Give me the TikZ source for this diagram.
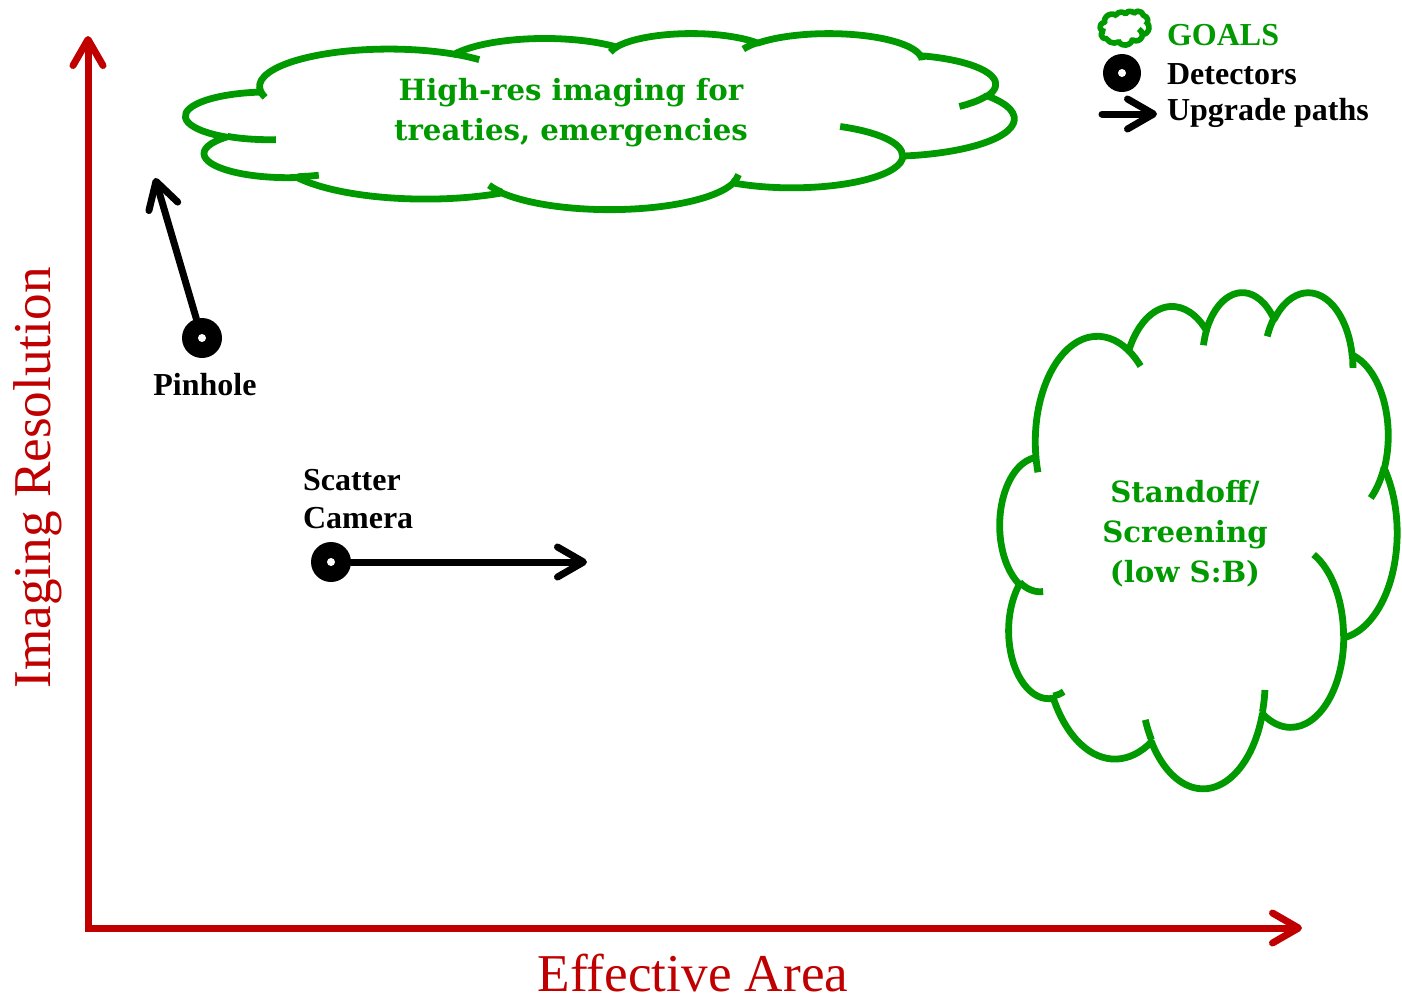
\documentclass[tikz,border=0pt]{standalone}
\usepackage{xcolor}
\usepackage{fontspec}
\setmainfont{Liberation Serif}
\newfontfamily\goalfont{DejaVu Serif}
\usepackage{tikz}
\usetikzlibrary{arrows.meta}

\definecolor{axisred}{RGB}{192,0,0}
\definecolor{goalgreen}{RGB}{0,153,0}

\tikzset{
    cloudline/.style={draw=goalgreen, line width=3.4pt, line join=round, line cap=butt},
    goaltext/.style={text=goalgreen, align=center,
        font=\goalfont\bfseries\fontsize{14.6}{20}\selectfont},
    detector/.style={circle, fill=black, minimum size=20pt, inner sep=0pt,
        path picture={\fill[white] (path picture bounding box.center) circle (2pt);}},
    upgrade/.style={line width=3.5pt, line cap=round,
        -{Straight Barb[length=13pt,width=15pt,line cap=round,line join=round]}},
    axis/.style={axisred, line width=3.5pt,
        {Straight Barb[length=13pt,width=15pt,line cap=round,line join=round]}-{Straight Barb[length=13pt,width=15pt,line cap=round,line join=round]}},
    axislabel/.style={text=axisred, font=\fontsize{26.6}{30}\selectfont},
    detlabel/.style={font=\bfseries\fontsize{16}{19}\selectfont, align=left}
}

% cloud outline in a 432 x 432 box: left, top, width, height (px)
\newcommand{\goalcloud}[5][]{%
    \pgfmathsetmacro\cloudux{#4/864}%
    \pgfmathsetmacro\clouduy{#5/864}%
    \begin{scope}[shift={(#2,#3)}, x=\cloudux pt, y=-\clouduy pt, cloudline, #1]
        % outer puffs
        \draw (39,143.7)
            \foreach \rx/\ry/\st/\sw in {67.53/91.90/-190.4875/123.7805, 53.33/72.67/-144.1024/89.9452,
                43.65/59.45/-145.8079/99.7230, 48.57/65.95/-130.9861/117.2417,
                53.33/72.73/-78.7089/109.0269, 67.75/92.20/-46.2673/130.2690,
                57.85/78.67/0.6250/114.0333, 67.52/92.15/22.4516/115.1726,
                77.20/105.43/66.2426/75.7110, 43.60/59.18/-274.9421/146.7356,
                43.45/59.45/-246.8285/152.5189} {
                arc[x radius=\rx, y radius=\ry,
                    start angle={atan2(\rx*sin(\st),\ry*cos(\st))},
                    delta angle={mod(atan2(\rx*sin(\st+\sw),\ry*cos(\st+\sw))-atan2(\rx*sin(\st),\ry*cos(\st))+720,360)}]
            } -- cycle;
        % inner strokes
        \foreach \px/\py/\rx/\ry/\st/\sw in {46.93/261.77/43.45/59.45/86.7420/26.4295,
            69.28/348.99/43.60/59.18/73.6105/11.4475, 164.78/390.90/67.52/92.15/137.6242/14.0811,
            288.27/347.51/67.52/92.15/6.4533/15.9984, 341.29/229.54/57.85/78.67/-70.2924/70.9174,
            417.98/153.54/53.33/72.73/30.3180/27.7515, 383.24/54.26/48.57/65.95/-13.7443/14.8589,
            290.78/39.52/48.57/65.95/-149.1815/18.1954, 221.41/47.20/43.65/59.45/-163.4943/17.6864,
            140.00/51.92/67.53/91.90/-66.7070/12.3194, 41.27/157.89/67.53/91.90/157.6544/11.8582} {
            \draw (\px,\py) arc[x radius=\rx, y radius=\ry,
                start angle={atan2(\rx*sin(\st),\ry*cos(\st))},
                delta angle={mod(atan2(\rx*sin(\st+\sw),\ry*cos(\st+\sw))-atan2(\rx*sin(\st),\ry*cos(\st))+720,360)}];
        }
    \end{scope}%
}

\begin{document}
\begin{tikzpicture}[x=0.5pt, y=-0.5pt]
    \useasboundingbox (0,0) rectangle (1402,1002);

    % Axes
    \coordinate (ytop) at (88,36);
    \coordinate (origin) at (88,928);
    \coordinate (xend) at (1302,928);
    \draw[axis] (ytop) -- (origin) -- (xend);
    \node[axislabel] (xlabel) at (693,973) {Effective Area};
    \node[axislabel, rotate=90] (ylabel) at (38,478) {Imaging Resolution};

    % Goals
    \goalcloud{186}{33}{828}{176}
    \node[goaltext] (highres) at (571,113) {High-res imaging for\\treaties, emergencies};
    \goalcloud{1000}{291}{397}{496}
    \node[goaltext] (standoff) at (1185,534) {Standoff/\\Screening\\(low S:B)};

    % Detectors and upgrade paths
    \node[detector] (pinhole) at (202,338) {};
    \node[detlabel] (pinholelabel) at (205,385) {Pinhole};
    \coordinate (pinholeup) at (155,178);
    \draw[upgrade] (pinhole) -- (pinholeup);

    \node[detector] (scatter) at (331,562) {};
    \node[detlabel, anchor=west] (scatterlabel) at (296,499) {Scatter\\Camera};
    \coordinate (scatterup) at (587,562);
    \draw[upgrade] (scatter) -- (scatterup);

    % Legend
    \goalcloud[line width=2.8pt]{1100}{11}{49}{34}
    \node[detector, minimum size=19pt] (keydet) at (1122,73) {};
    \coordinate (keyfrom) at (1102,114);
    \coordinate (keyto) at (1157,114);
    \draw[upgrade] (keyfrom) -- (keyto);
    \foreach \y/\name/\txt in {35/keygoal/{\textcolor{goalgreen}{GOALS}}, 74/keydettext/Detectors, 113/keyup/Upgrade paths} {
        \node[detlabel, anchor=west] (\name) at (1160,\y) {\txt};
    }
\end{tikzpicture}
\end{document}
